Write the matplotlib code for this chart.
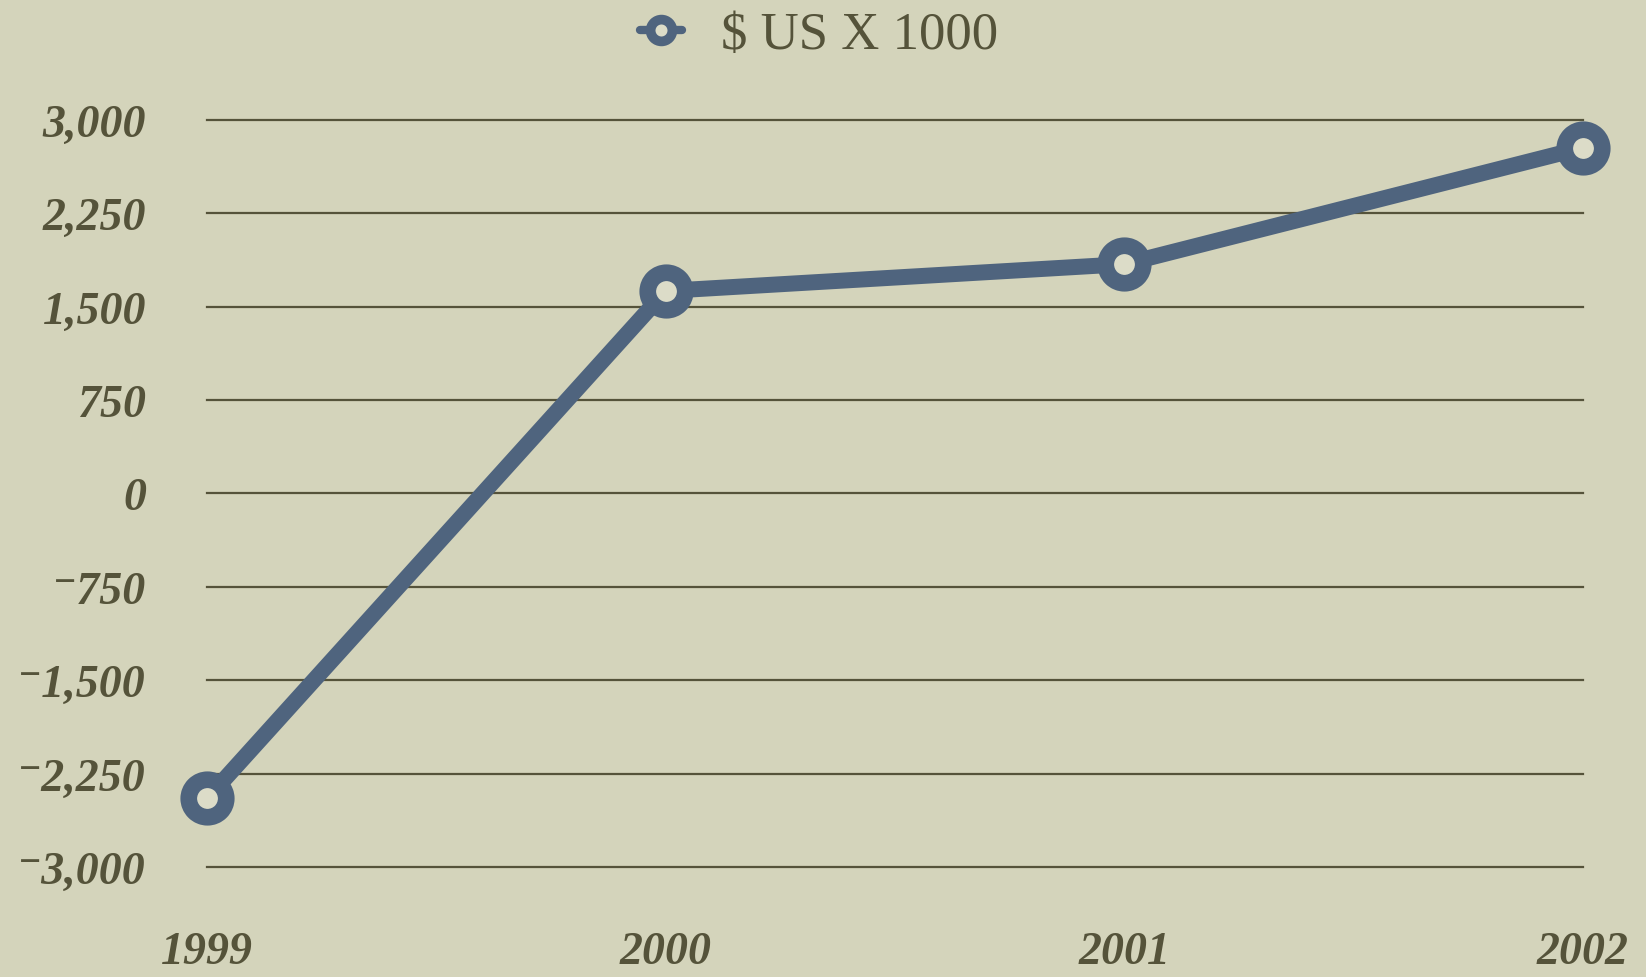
import numpy as np
import matplotlib
matplotlib.use('Agg')
import matplotlib.pyplot as plt
from matplotlib.ticker import FuncFormatter

# data
years = [1999, 2000, 2001, 2002]
values = [-2450, 1625, 1840, 2775]
series_name = '$ US X 1000'
yticks = [-3000, -2250, -1500, -750, 0, 750, 1500, 2250, 3000]

bg = '#d4d4bb'
ink = '#55533a'
blue = '#4f647e'
serif = ['Liberation Serif', 'DejaVu Serif']


def fmt(v, pos):
	s = '{:,}'.format(abs(int(v)))
	if v < 0: s = '\u207b' + s
	return s


fig = plt.figure(figsize=(16.46, 9.78), dpi=100, facecolor=bg)
ax = fig.add_axes([0.1258, 0.1125, 0.9617 - 0.1258, 0.8766 - 0.1125])
ax.set_facecolor(bg)

for y in yticks:
	ax.axhline(y, color=ink, lw=1.6, zorder=1, clip_on=False)

ax.plot(years, values, '-o', color=blue, lw=11.5, ms=27, mew=12, mfc='#dcdcc8', mec=blue,
		solid_capstyle='round', clip_on=False, zorder=3, label=series_name)

ax.set_xlim(1999, 2002)
ax.set_ylim(-3000, 3000)
ax.set_xticks(years)
ax.set_yticks(yticks)
ax.yaxis.set_major_formatter(FuncFormatter(fmt))
ax.tick_params(length=0, labelcolor=ink)
ax.tick_params(axis='y', pad=44)
ax.tick_params(axis='x', pad=46)
for lab in ax.get_yticklabels() + ax.get_xticklabels():
	lab.set_family(serif)
	lab.set_style('italic')
	lab.set_weight('bold')
	lab.set_fontsize(33)
for s in ax.spines.values():
	s.set_visible(False)

leg = fig.legend(loc='center', bbox_to_anchor=(0.4975, 0.963), frameon=False,
				 handlelength=0.8, handletextpad=0.73, markerscale=0.58,
				 prop={'family': serif, 'size': 38})
for t in leg.get_texts():
	t.set_color(ink)
for h in leg.legend_handles:
	h.set_linewidth(6)
	h.set_markeredgewidth(7)

fig.savefig('out.png', dpi=100, facecolor=bg)
